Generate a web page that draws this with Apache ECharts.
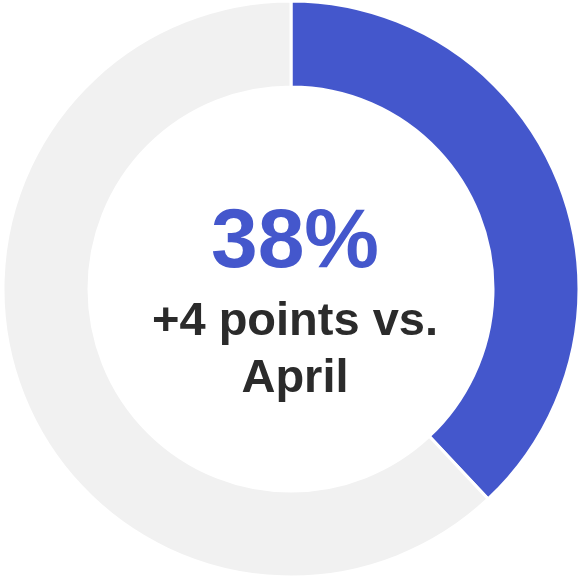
<!DOCTYPE html>
<html>
<head>
<meta charset="utf-8">
<script src="https://cdn.jsdelivr.net/npm/echarts@6/dist/echarts.min.js"></script>
<style>
  html, body { margin: 0; padding: 0; background: #fff; }
  #chart { width: 581px; height: 577px; }
</style>
</head>
<body>
<div id="chart"></div>
<script>
// share of respondents, current month
const categories = ['Share', 'Rest']
const values = [38, 62]
const headline = '38%'
const subline = ['+4 points vs.', 'April']

const chart = echarts.init(document.getElementById('chart'))

chart.setOption({
  animation: false,
  title: {
    text: '{a|' + headline + '}\n' + subline.map(s => '{b|' + s + '}').join('\n'),
    left: 295,
    textAlign: 'center',
    top: 193,
    padding: 0,
    textStyle: {
      rich: {
        a: {
          fontFamily: 'Liberation Sans, Arial, sans-serif',
          fontSize: 84,
          fontWeight: 'bold',
          color: '#4457CC',
          lineHeight: 101,
          align: 'center'
        },
        b: {
          fontFamily: 'Liberation Sans, Arial, sans-serif',
          fontSize: 47,
          fontWeight: 'bold',
          color: '#2b2b2b',
          lineHeight: 57,
          align: 'center'
        }
      }
    }
  },
  series: [
    {
      type: 'pie',
      center: [291, 289],
      radius: [202, 288],
      startAngle: 90,
      clockwise: true,
      silent: true,
      label: { show: false },
      labelLine: { show: false },
      itemStyle: {
        borderColor: '#fff',
        borderWidth: 3
      },
      data: categories.map((name, i) => ({
        name,
        value: values[i],
        itemStyle: { color: i === 0 ? '#4457CC' : '#F1F1F1' }
      }))
    }
  ]
})
</script>
</body>
</html>
